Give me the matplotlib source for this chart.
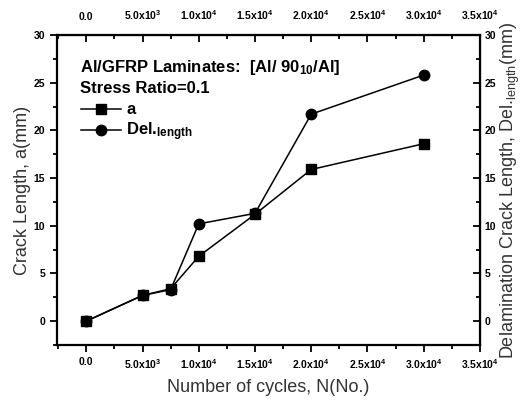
import matplotlib
matplotlib.use("Agg")
import matplotlib.pyplot as plt
from matplotlib.ticker import MultipleLocator, FixedLocator, FixedFormatter

plt.rcParams["font.family"] = ["Liberation Sans", "DejaVu Sans"]
plt.rcParams["mathtext.default"] = "regular"

# data
cycles = [0, 5000, 7500, 10000, 15000, 20000, 30000]
crack_a = [0.0, 2.7, 3.4, 6.8, 11.2, 15.9, 18.6]
del_length = [0.0, 2.7, 3.3, 10.2, 11.3, 21.7, 25.8]

xtick_vals = [0, 5000, 10000, 15000, 20000, 25000, 30000, 35000]
xtick_labels = ["0.0", r"5.0x10$^3$", r"1.0x10$^4$", r"1.5x10$^4$", r"2.0x10$^4$",
                r"2.5x10$^4$", r"3.0x10$^4$", r"3.5x10$^4$"]
ytick_vals = [0, 5, 10, 15, 20, 25, 30]

fig = plt.figure(figsize=(5.28, 4.0), dpi=100)
ax = fig.add_axes([0.108, 0.1375, 0.801, 0.775])

l1, = ax.plot(cycles, crack_a, "-s", color="black", lw=1.1, ms=7)
l2, = ax.plot(cycles, del_length, "-o", color="black", lw=1.1, ms=7.5)

ax.set_xlim(-2600, 35000)
ax.set_ylim(-2.5, 30)
for s in ax.spines.values():
    s.set_linewidth(1.6)

ax.xaxis.set_major_locator(FixedLocator(xtick_vals))
ax.xaxis.set_major_formatter(FixedFormatter(xtick_labels))
ax.xaxis.set_minor_locator(MultipleLocator(2500))
ax.yaxis.set_major_locator(FixedLocator(ytick_vals))
ax.yaxis.set_minor_locator(MultipleLocator(2.5))
ax.tick_params(axis="both", which="major", direction="out", length=5, width=1.3,
               labelsize=7.5)
ax.tick_params(axis="both", which="minor", direction="out", length=3, width=1.3)
for lab in ax.get_xticklabels() + ax.get_yticklabels():
    lab.set_fontweight("bold")

# mirror axes: top x and right y, ticks pointing in
axt = ax.secondary_xaxis("top")
axt.xaxis.set_major_locator(FixedLocator(xtick_vals))
axt.xaxis.set_major_formatter(FixedFormatter(xtick_labels))
axt.xaxis.set_minor_locator(MultipleLocator(2500))
axt.tick_params(which="major", direction="in", length=5, width=1.3, labelsize=7.5, pad=9)
axt.tick_params(which="minor", direction="in", length=3, width=1.3)
for lab in axt.get_xticklabels():
    lab.set_fontweight("bold")

axr = ax.secondary_yaxis("right")
axr.yaxis.set_major_locator(FixedLocator(ytick_vals))
axr.yaxis.set_minor_locator(MultipleLocator(2.5))
axr.tick_params(which="major", direction="in", length=5, width=1.3, labelsize=7.5)
axr.tick_params(which="minor", direction="in", length=3, width=1.3)
for lab in axr.get_yticklabels():
    lab.set_fontweight("bold")

ax.set_xlabel("Number of cycles, N(No.)", fontsize=13, color="#333333", labelpad=6)
ax.set_ylabel("Crack Length, a(mm)", fontsize=13, color="#333333", labelpad=2)
axr.set_ylabel("Delamination Crack Length, Del.$_{length}$(mm)", fontsize=13,
               color="#333333", labelpad=2)

ax.text(0.055, 0.895, r"Al/GFRP Laminates:  [Al/ 90$_{10}$/Al]", transform=ax.transAxes,
        fontsize=12, fontweight="bold", va="center")
ax.text(0.055, 0.826, "Stress Ratio=0.1", transform=ax.transAxes,
        fontsize=12, fontweight="bold", va="center")
ax.legend([l1, l2], ["a", "Del.$_{length}$"], loc="upper left",
          bbox_to_anchor=(0.03, 0.82), frameon=False, handlelength=2.4,
          handletextpad=0.3, labelspacing=0.2, borderpad=0.2,
          prop=dict(size=12, weight="bold"))

fig.savefig("out.png", dpi=100)
